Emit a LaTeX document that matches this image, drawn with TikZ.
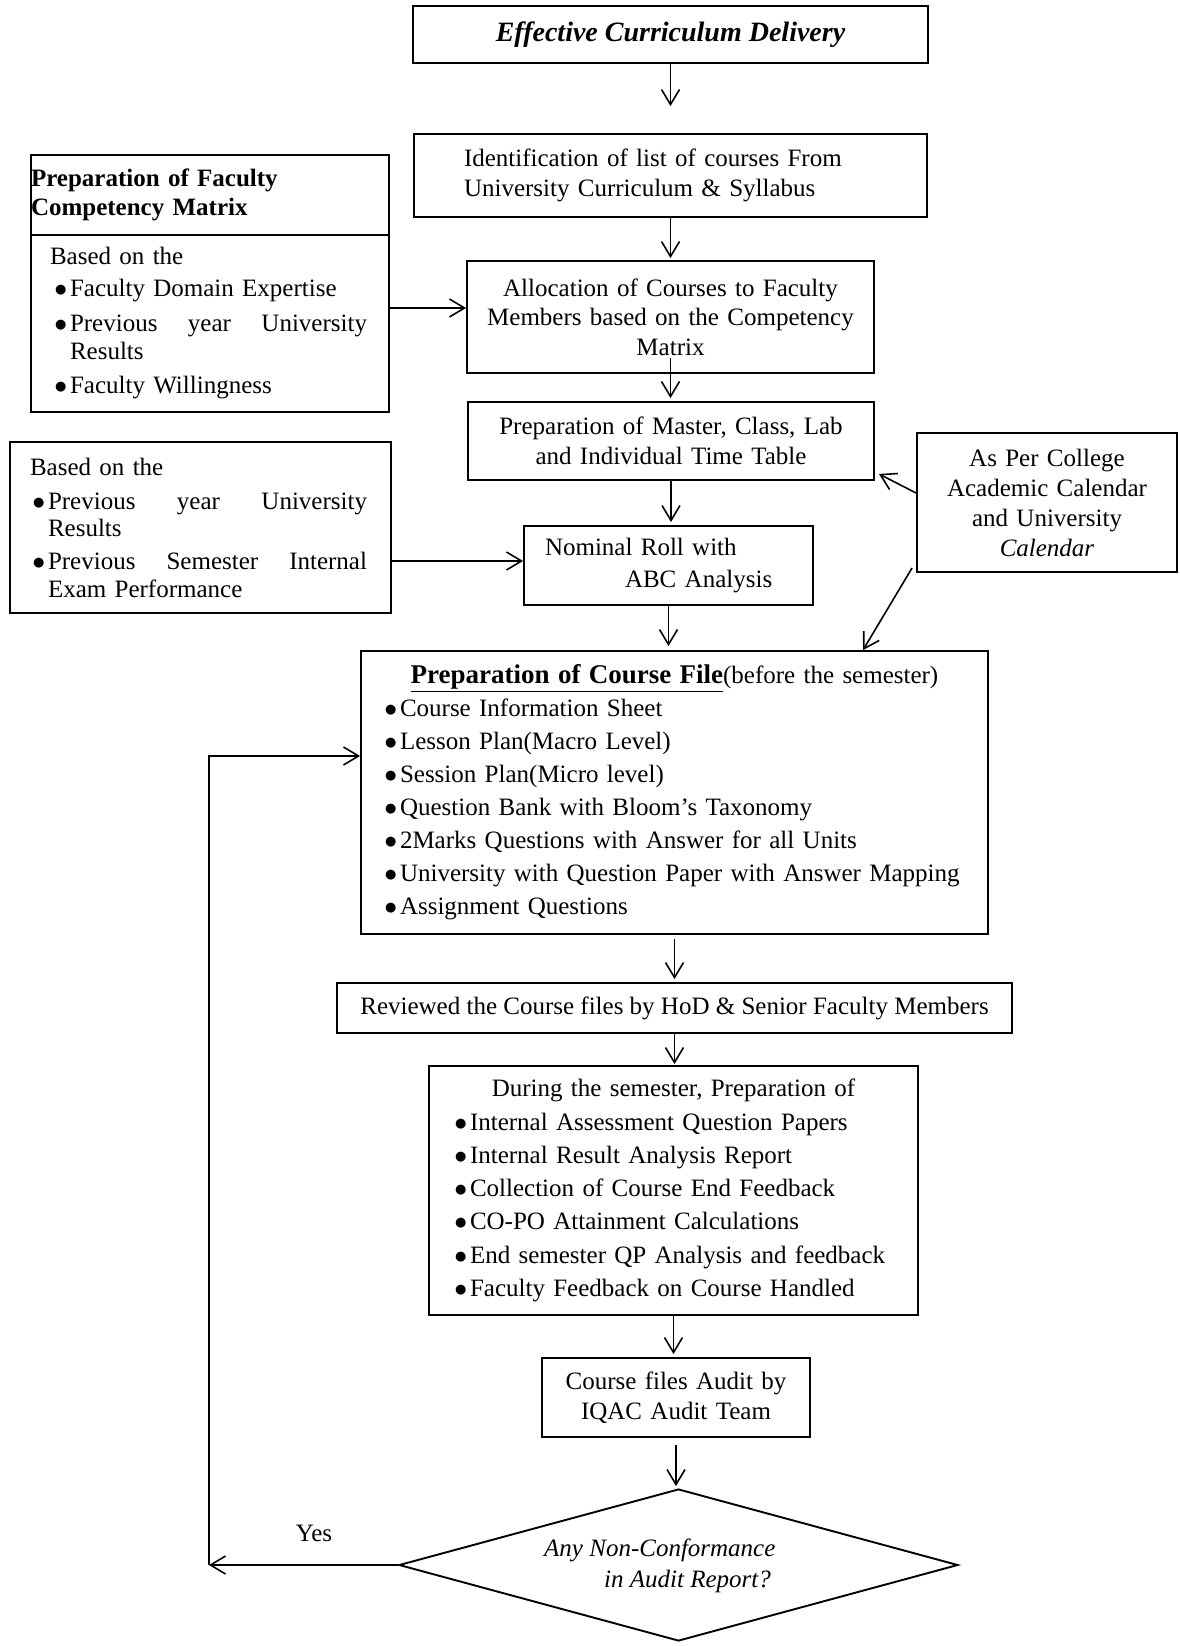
\documentclass[tikz,border=0pt]{standalone}
\usepackage{fontspec}
\setmainfont{Liberation Serif}
\newfontfamily\symfont{DejaVu Sans}
\usetikzlibrary{arrows.meta,shapes.geometric,calc}
\newcommand{\bdot}{\raisebox{3pt}{\symfont\fontsize{13}{13}\selectfont ●}}
\newcommand{\bl}{\makebox[15pt][l]{\bdot}}
\newcommand{\blA}{\hspace*{5pt}\makebox[15pt][l]{\bdot}}
\newcommand{\blB}{\hspace*{3pt}\makebox[15pt][l]{\bdot}}
\begin{document}
\begin{tikzpicture}[x=1pt,y=-1pt,
  box/.style={draw, line width=1.9pt, rectangle, inner sep=0pt, font=\fontsize{25}{30}\selectfont},
  arr/.style={line width=1.6pt, -{Straight Barb[length=15pt,width=18pt,line width=1.6pt]}},
  txt/.style={inner sep=0pt, font=\fontsize{25}{30}\selectfont}
]
\useasboundingbox (0,0) rectangle (1179,1646);
\fill[white] (0,0) rectangle (1179,1646);

% main column
\node[box, line width=2.6pt, minimum width=515pt, minimum height=57pt, font=\fontsize{28}{30}\selectfont\bfseries\itshape] (b1) at (670.5,34.5) {Effective Curriculum Delivery};

\node[box, minimum width=513pt, minimum height=83pt, text width=413pt, align=left] (b2) at (670.5,175.5) {Identification of list of courses From\\University Curriculum \& Syllabus};

\node[box, minimum width=407pt, minimum height=112pt, text width=400pt, align=center, font=\fontsize{25}{29.5}\selectfont] (b3) at (670.5,317) {Allocation of Courses to Faculty\\Members based on the Competency\\Matrix};

\node[box, minimum width=406pt, minimum height=78pt, text width=400pt, align=center] (b4) at (671,441) {Preparation of Master, Class, Lab\\and Individual Time Table};

\node[box, minimum width=289pt, minimum height=79pt, text width=247pt, align=left, font=\fontsize{25}{32}\selectfont] (b5) at (668.5,565.5) {Nominal Roll with\\\hspace*{80pt}ABC Analysis};

\node[box, minimum width=627pt, minimum height=283pt, text width=579pt, align=left, font=\fontsize{25}{33}\selectfont] (b6) at (674.5,792.5) {\makebox[579pt][c]{\underline{\fontsize{27}{33}\selectfont\textbf{Preparation of Course File}}(before the semester)}\\
\bl Course Information Sheet\\
\bl Lesson Plan(Macro Level)\\
\bl Session Plan(Micro level)\\
\bl Question Bank with Bloom’s Taxonomy\\
\bl 2Marks Questions with Answer for all Units\\
\bl University with Question Paper with Answer Mapping\\
\bl Assignment Questions};

\node[box, minimum width=675pt, minimum height=50pt] (b7) at (674.5,1008) {Reviewed the Course files by HoD \& Senior Faculty Members};

\node[box, minimum width=489pt, minimum height=249pt, text width=437pt, align=left, font=\fontsize{25}{33.3}\selectfont] (b8) at (673.5,1190.5) {\makebox[437pt][c]{During the semester, Preparation of}\\
\bl Internal Assessment Question Papers\\
\bl Internal Result Analysis Report\\
\bl Collection of Course End Feedback\\
\bl CO-PO Attainment Calculations\\
\bl End semester QP Analysis and feedback\\
\bl Faculty Feedback on Course Handled};

\node[box, minimum width=268pt, minimum height=79pt, text width=260pt, align=center] (b9) at (676,1397.5) {Course files Audit by\\IQAC Audit Team};

\node[draw, line width=1.9pt, shape=diamond, inner sep=0pt, minimum width=559pt, minimum height=152pt] (dia) at (678.5,1565) {};
\node[txt, align=left, anchor=west, font=\fontsize{25}{31}\selectfont\itshape] (dq) at (544,1566) {Any Non-Conformance\\\hspace*{60pt}in Audit Report?};

% left boxes
\node[box, minimum width=358pt, minimum height=80pt, text width=358pt, align=left, font=\fontsize{25}{29}\selectfont\bfseries] (Atop) at (210,195) {Preparation of Faculty\\Competency Matrix};
\node[box, minimum width=358pt, minimum height=177pt, text width=320pt, align=left, font=\fontsize{25}{28}\selectfont] (Abot) at (210,323.5) {Based on the\\[4pt]
\blA Faculty Domain Expertise\\[7pt]
\blA\makebox[297pt][l]{Previous\hfill year\hfill University}\\
\hspace*{20pt}Results\\[6pt]
\blA Faculty Willingness};

\node[box, minimum width=381pt, minimum height=171pt, text width=341pt, align=left, font=\fontsize{25}{27}\selectfont] (B) at (200.5,527.5) {Based on the\\[7pt]
\blB\makebox[319pt][l]{Previous\hfill year\hfill University}\\
\hspace*{18pt}Results\\[6pt]
\blB\makebox[319pt][l]{Previous\hfill Semester\hfill Internal}\\[1pt]
\hspace*{18pt}Exam Performance};

% right box
\node[box, minimum width=260pt, minimum height=139pt, text width=250pt, align=center] (C) at (1047,502.5) {As Per College\\Academic Calendar\\and University\\\textit{Calendar}};

% vertical arrows
\draw[arr, shorten >=27pt] (b1.south) -- (b1.south |- b2.north);
\draw[arr, shorten >=2pt] (b2.south) -- (b2.south |- b3.north);
\draw[arr, shorten <=-16pt, shorten >=3pt] (b3.south) -- (b3.south |- b4.north);
\draw[arr, shorten >=3pt] (b4.south) -- (b4.south |- b5.north);
\draw[arr, shorten >=4pt] (b5.south) -- (b5.south |- b6.north);
\draw[arr, shorten <=4pt, shorten >=3pt] (b6.south) -- (b6.south |- b7.north);
\draw[arr, shorten >=1pt] (b7.south) -- (b7.south |- b8.north);
\draw[arr, shorten >=3pt] (b8.south) -- (b8.south |- b9.north);
\draw[arr, shorten <=7pt, shorten >=2pt] (b9.south) -- (b9.south |- dia.north);

% side arrows
\coordinate (pA) at ([yshift=9pt]b3.west);
\draw[arr] (pA -| Abot.east) -- (pA);
\coordinate (pB) at ([yshift=4.5pt]b5.west);
\draw[arr] (pB -| B.east) -- (pB);
\draw[arr] ([yshift=9.5pt]C.west) -- ([shift={(4pt,7pt)}]b4.south east);
\draw[arr] ([shift={(-4pt,5pt)}]C.south west) -- ([xshift=188.5pt]b6.north);

% loop back
\coordinate (lp1) at (209,1565);
\coordinate (lp2) at (209,756);
\draw[arr] (dia.west) -- (lp1);
\draw[arr] (lp1) -- (lp2) -- (lp2 -| b6.west);
\node[txt] (yes) at (314,1533) {Yes};
\end{tikzpicture}
\end{document}
